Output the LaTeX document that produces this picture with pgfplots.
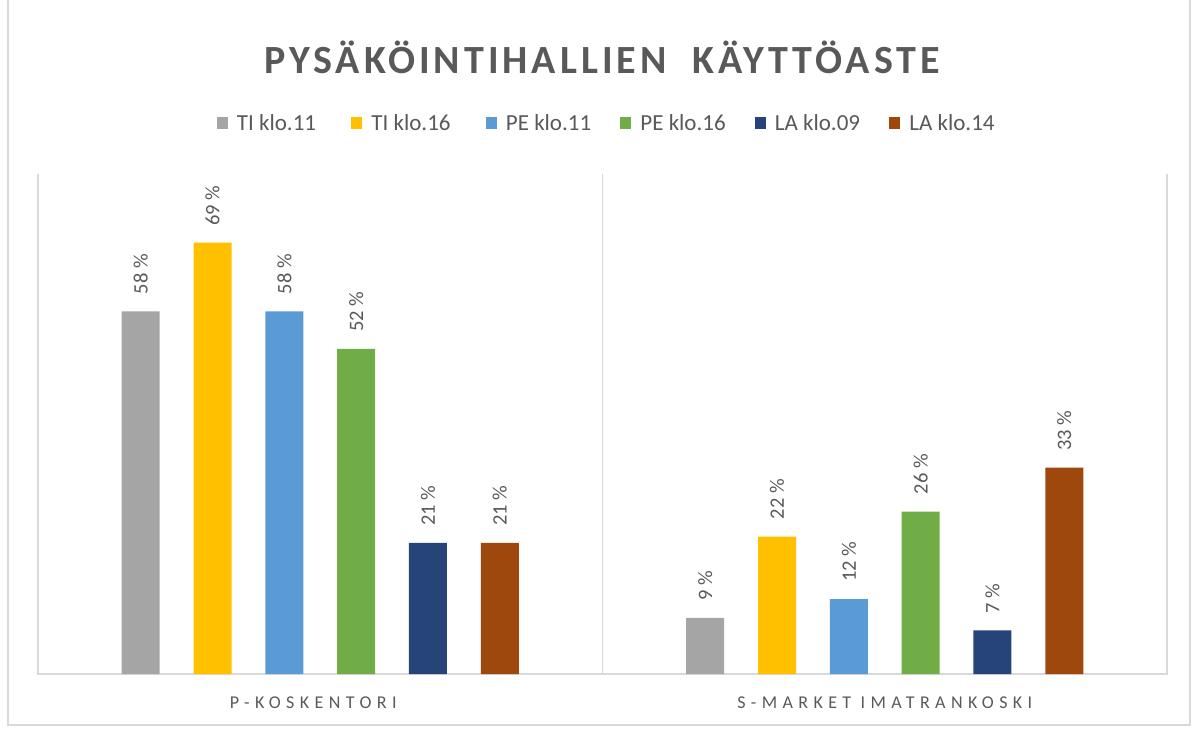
\documentclass[border=0pt]{standalone}
\usepackage{fontspec}
\setmainfont{Carlito}
\newfontfamily\titlefont[LetterSpace=10]{Carlito}
\newfontfamily\catfont[LetterSpace=30]{Carlito}
\usepackage{pgfplots}
\pgfplotsset{compat=1.18}
\definecolor{cGray}{HTML}{A5A5A5}
\definecolor{cGold}{HTML}{FFC000}
\definecolor{cBlue}{HTML}{5B9BD5}
\definecolor{cGreen}{HTML}{70AD47}
\definecolor{cNavy}{HTML}{264478}
\definecolor{cBrown}{HTML}{9E480E}
\definecolor{txt}{HTML}{595959}
\definecolor{lineGray}{HTML}{D9D9D9}
\begin{document}
\begin{tikzpicture}
\useasboundingbox (0,0) rectangle (1195pt,729pt);
\draw[color=lineGray, line width=1.2pt] (8pt,729pt) -- (8pt,4pt) -- (1190pt,4pt) -- (1190pt,729pt);
\node[font=\titlefont\bfseries\fontsize{40}{48}\selectfont, text=txt] at (602pt,672pt) {PYSÄKÖINTIHALLIEN~ KÄYTTÖASTE};
\begin{axis}[
  at={(38pt,55pt)}, anchor=south west, scale only axis, width=1129pt, height=500pt,
  xmin=-0.5, xmax=1.5, ymin=0, ymax=80,
  axis line style={draw=none}, major tick length=0pt,
  ytick=\empty, xtick={0,1}, xticklabels={\hspace*{-14pt}P-KOSKENTORI, S-MARKET IMATRANKOSKI},
  xticklabel style={font=\catfont\fontsize{18}{22}\selectfont, text=txt, inner sep=0pt, yshift=-23pt},
  nodes near coords={\pgfmathprintnumber[assume math mode=true]{\pgfplotspointmeta}~\%},
  every node near coord/.append style={rotate=90, anchor=west, inner xsep=17pt, inner ysep=0pt, font=\fontsize{20.5}{24}\selectfont, text=txt},
  legend columns=6,
  legend cell align=left,
  legend style={at={(0.1585,1.102)}, anchor=west, draw=none, inner sep=0pt, outer sep=0pt, font=\fontsize{23}{28}\selectfont, text=txt, /tikz/every odd column/.append style={column sep=7pt}},
  legend image code/.code={\fill[#1] (0pt,-6pt) rectangle (11pt,6pt);},
  clip=false,
]
\draw[color=lineGray, line width=1.5pt] (axis cs:-0.5,80) -- (axis cs:-0.5,0) -- (axis cs:1.5,0) -- (axis cs:1.5,80);
\draw[color=lineGray, line width=1.5pt] (axis cs:0.5,0) -- (axis cs:0.5,80);
\addplot[ybar, bar width=0.0673, bar shift=0, fill=cGray, draw=none] coordinates {(-0.318,58) (0.682,9)};
\addplot[ybar, bar width=0.0673, bar shift=0, fill=cGold, draw=none] coordinates {(-0.1908,69) (0.8092,22)};
\addplot[ybar, bar width=0.0673, bar shift=0, fill=cBlue, draw=none] coordinates {(-0.0636,58) (0.9364,12)};
\addplot[ybar, bar width=0.0673, bar shift=0, fill=cGreen, draw=none] coordinates {(0.0636,52) (1.0636,26)};
\addplot[ybar, bar width=0.0673, bar shift=0, fill=cNavy, draw=none] coordinates {(0.1908,21) (1.1908,7)};
\addplot[ybar, bar width=0.0673, bar shift=0, fill=cBrown, draw=none] coordinates {(0.318,21) (1.318,33)};
\legend{\makebox[112.5pt][l]{TI klo.11}, \makebox[112.5pt][l]{TI klo.16}, \makebox[112.5pt][l]{PE klo.11}, \makebox[112.5pt][l]{PE klo.16}, \makebox[112.5pt][l]{LA klo.09}, \makebox[112.5pt][l]{LA klo.14}}
\end{axis}
\end{tikzpicture}
\end{document}
